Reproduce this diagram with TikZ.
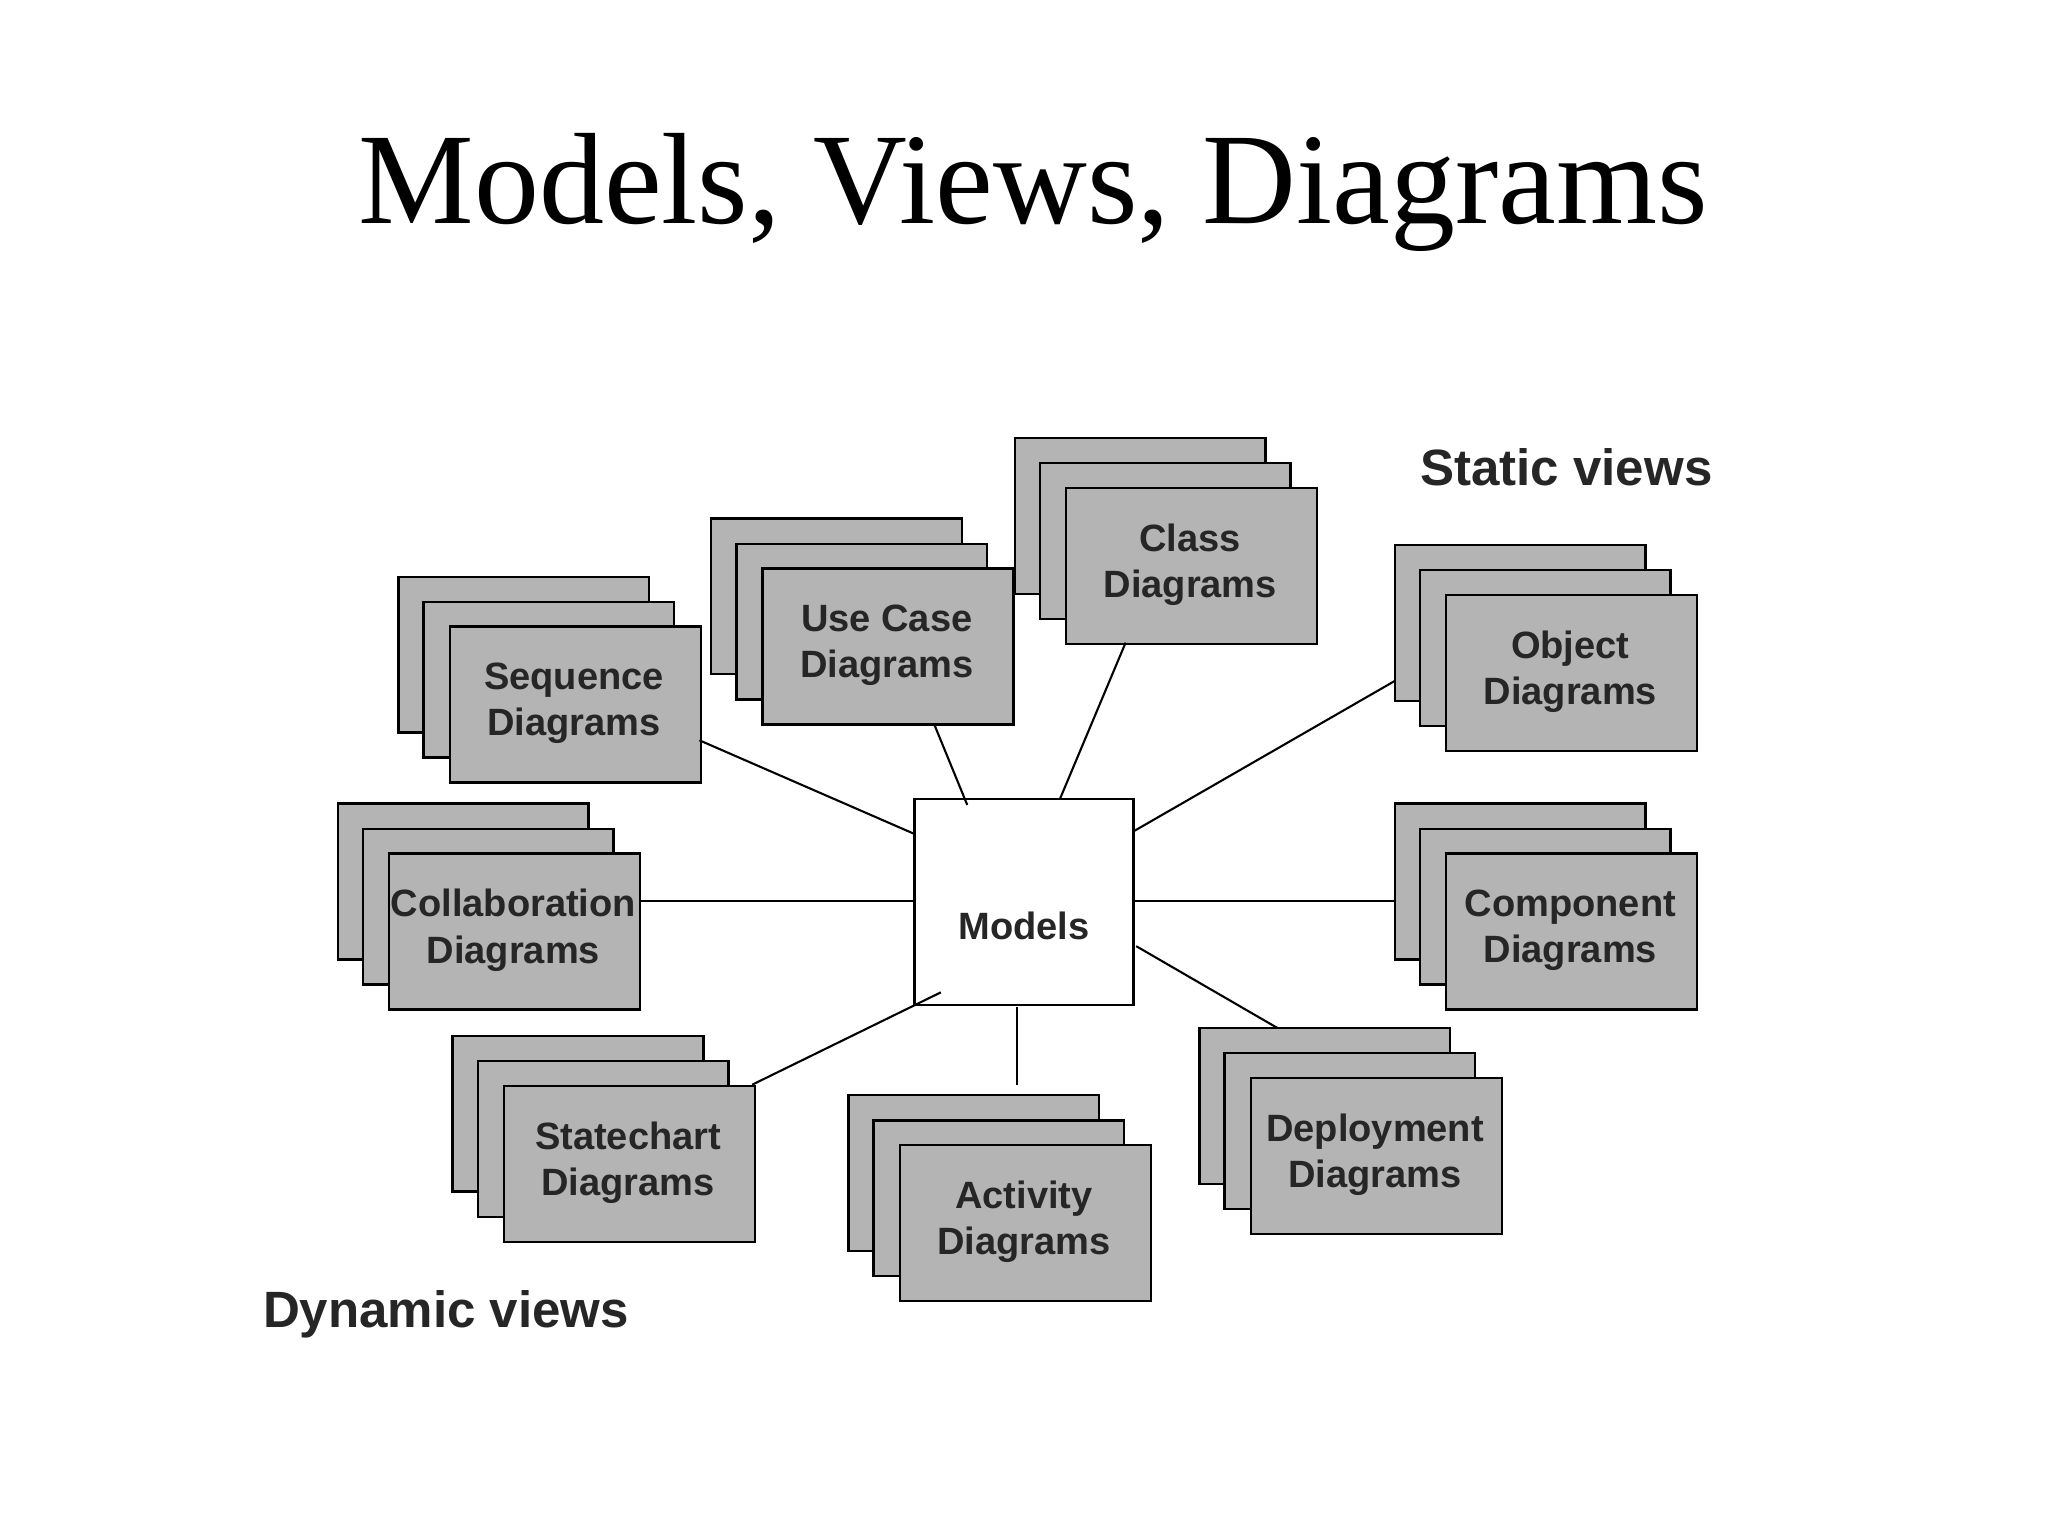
\documentclass[tikz,border=0pt]{standalone}
\usepackage{fontspec}
\setmainfont{Liberation Serif}
\newfontfamily\arial{Liberation Sans}
\usetikzlibrary{shapes.geometric}
\definecolor{boxgray}{RGB}{180,180,180}
\tikzset{
  x=0.01cm, y=-0.01cm,
  card/.style={draw=black, line width=0.5pt, fill=boxgray},
  lbl/.style={font=\arial\bfseries\fontsize{8.2}{10}\selectfont, align=center, text=black!85},
  conn/.style={draw=black, line width=0.45pt},
}
% #1 name, #2 left, #3 top of front card, #4 text
\newcommand{\dstack}[4]{%
  \draw[card] (#2-38,#3-37) rectangle +(190,118);
  \draw[card] (#2-19,#3-18) rectangle +(190,118);
  \node[card, minimum width=1.9cm, minimum height=1.18cm, anchor=north west, inner sep=0pt] (#1) at (#2,#3) {};
  \node[lbl] (#1t) at (#2+95,#3+59) {#4};
}
\begin{document}
\begin{tikzpicture}
\useasboundingbox (0,0) rectangle (1552,1164);
\node[font=\fontsize{28}{32}\selectfont] (title) at (783,146) {Models, Views, Diagrams};
\node[font=\arial\bfseries\fontsize{11}{13}\selectfont, text=black!85] (static) at (1187,354) {Static views};
\node[font=\arial\bfseries\fontsize{11}{13}\selectfont, text=black!85] (dynamic) at (338,996) {Dynamic views};

\dstack{cls}{807}{369}{Class\\Diagrams}
\dstack{uc}{577}{430}{Use Case\\Diagrams}
\dstack{seq}{340}{474}{Sequence\\Diagrams}
\dstack{obj}{1095}{450}{Object\\Diagrams}
\dstack{col}{294}{646}{Collaboration\\Diagrams}
\dstack{cmp}{1095}{646}{Component\\Diagrams}
\dstack{st}{381}{822}{Statechart\\Diagrams}
\dstack{act}{681}{867}{Activity\\Diagrams}
\dstack{dep}{947}{816}{Deployment\\Diagrams}

\node[cylinder, shape border rotate=90, draw=black, line width=0.6pt, fill=white,
  minimum width=1.66cm, minimum height=1.56cm, aspect=2.6, inner sep=0pt] (models) at (776,684) {};
\node[lbl] (modelst) at (776,702) {Models};

\coordinate (m1) at (693,632); \coordinate (s1) at (530,561);
\coordinate (m2) at (733,610); \coordinate (s2) at (708,549);
\coordinate (m3) at (803,606); \coordinate (s3) at (853,487);
\coordinate (m4) at (859,630); \coordinate (s4) at (1057,516);
\coordinate (m5) at (693,683); \coordinate (s5) at (484,683);
\coordinate (m6) at (859,683); \coordinate (s6) at (1057,683);
\coordinate (m7) at (713,752); \coordinate (s7) at (570,822);
\coordinate (m8) at (771,763); \coordinate (s8) at (771,822);
\coordinate (m9) at (861,717); \coordinate (s9) at (968,779);
\foreach \i in {1,...,9} { \draw[conn] (m\i) -- (s\i); }
\end{tikzpicture}
\end{document}
